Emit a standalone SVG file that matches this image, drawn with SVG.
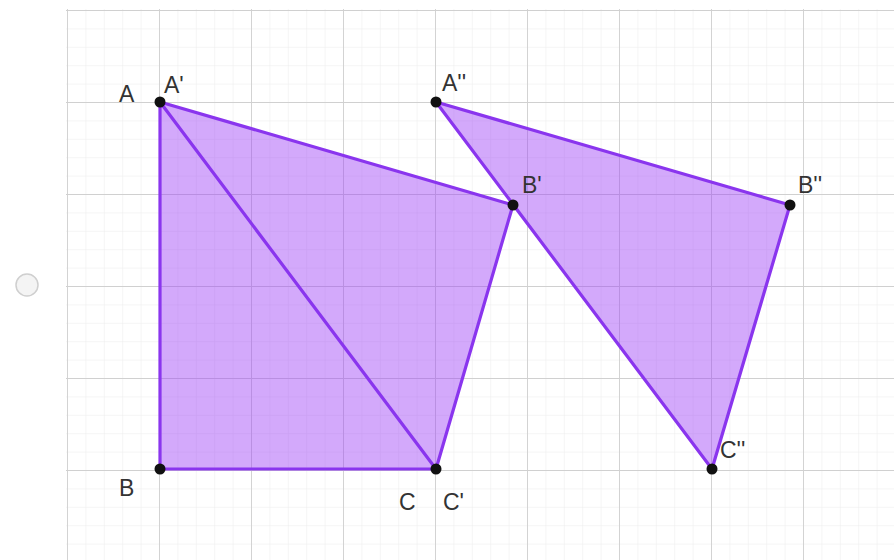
<svg xmlns="http://www.w3.org/2000/svg" width="894" height="560" viewBox="0 0 894 560">
<style>
.minor{stroke:#ececec;stroke-width:1}
.major{stroke:#d0d0d0;stroke-width:1.8}
.poly{fill:#9a3cf5;fill-opacity:0.44;stroke:none}
.edge{stroke:#8a35ee;stroke-width:3.2;fill:none;stroke-linecap:round}
.pt{fill:#111}
.lbl{font-family:"Liberation Sans",Arial,sans-serif;font-size:23px;fill:#333}
</style>
<defs>
<pattern id="minorGrid" x="67" y="10" width="18.4" height="18.4" patternUnits="userSpaceOnUse">
<path d="M0 0H18.4M0 0V18.4" class="minor"/>
</pattern>
<pattern id="majorGrid" x="67" y="10" width="92" height="92" patternUnits="userSpaceOnUse">
<path d="M0 0H92M0 0V92" class="major"/>
</pattern>
</defs>
<rect width="894" height="560" fill="#ffffff"/>
<circle cx="27" cy="285" r="11" fill="#f4f4f4" stroke="#cfcfcf" stroke-width="1.5"/>
<g id="grid">
<rect x="66" y="9" width="828" height="551" fill="url(#minorGrid)"/>
<rect x="66" y="9" width="828" height="551" fill="url(#majorGrid)"/>
</g>
<g id="triangle-ABC">
<polygon class="poly" points="160,102 160,469 436,469"/>
</g>
<g id="triangle-A1B1C1">
<polygon class="poly" points="160,102 513,205 436,469"/>
</g>
<g id="triangle-A2B2C2">
<polygon class="poly" points="436,102 790,205 712,469"/>
</g>
<g id="connectors">
<line class="edge" x1="160" y1="102" x2="160" y2="469"/>
<line class="edge" x1="160" y1="469" x2="436" y2="469"/>
<line class="edge" x1="160" y1="102" x2="436" y2="469"/>
<line class="edge" x1="160" y1="102" x2="513" y2="205"/>
<line class="edge" x1="513" y1="205" x2="436" y2="469"/>
<line class="edge" x1="436" y1="102" x2="790" y2="205"/>
<line class="edge" x1="790" y1="205" x2="712" y2="469"/>
<line class="edge" x1="712" y1="469" x2="436" y2="102"/>
</g>
<g id="point-A"><circle class="pt" cx="160" cy="102" r="5.5"/><text class="lbl" x="119" y="102">A</text><text class="lbl" x="164" y="93">A'</text></g>
<g id="point-B"><circle class="pt" cx="160" cy="469" r="5.5"/><text class="lbl" x="119" y="496">B</text></g>
<g id="point-C"><circle class="pt" cx="436" cy="469" r="5.5"/><text class="lbl" x="399" y="510">C</text><text class="lbl" x="443" y="510">C'</text></g>
<g id="point-B1"><circle class="pt" cx="513" cy="205" r="5.5"/><text class="lbl" x="522" y="193">B'</text></g>
<g id="point-A2"><circle class="pt" cx="436" cy="102" r="5.5"/><text class="lbl" x="442" y="91">A''</text></g>
<g id="point-B2"><circle class="pt" cx="790" cy="205" r="5.5"/><text class="lbl" x="798" y="193">B''</text></g>
<g id="point-C2"><circle class="pt" cx="712" cy="469" r="5.5"/><text class="lbl" x="720" y="458">C''</text></g>
</svg>
